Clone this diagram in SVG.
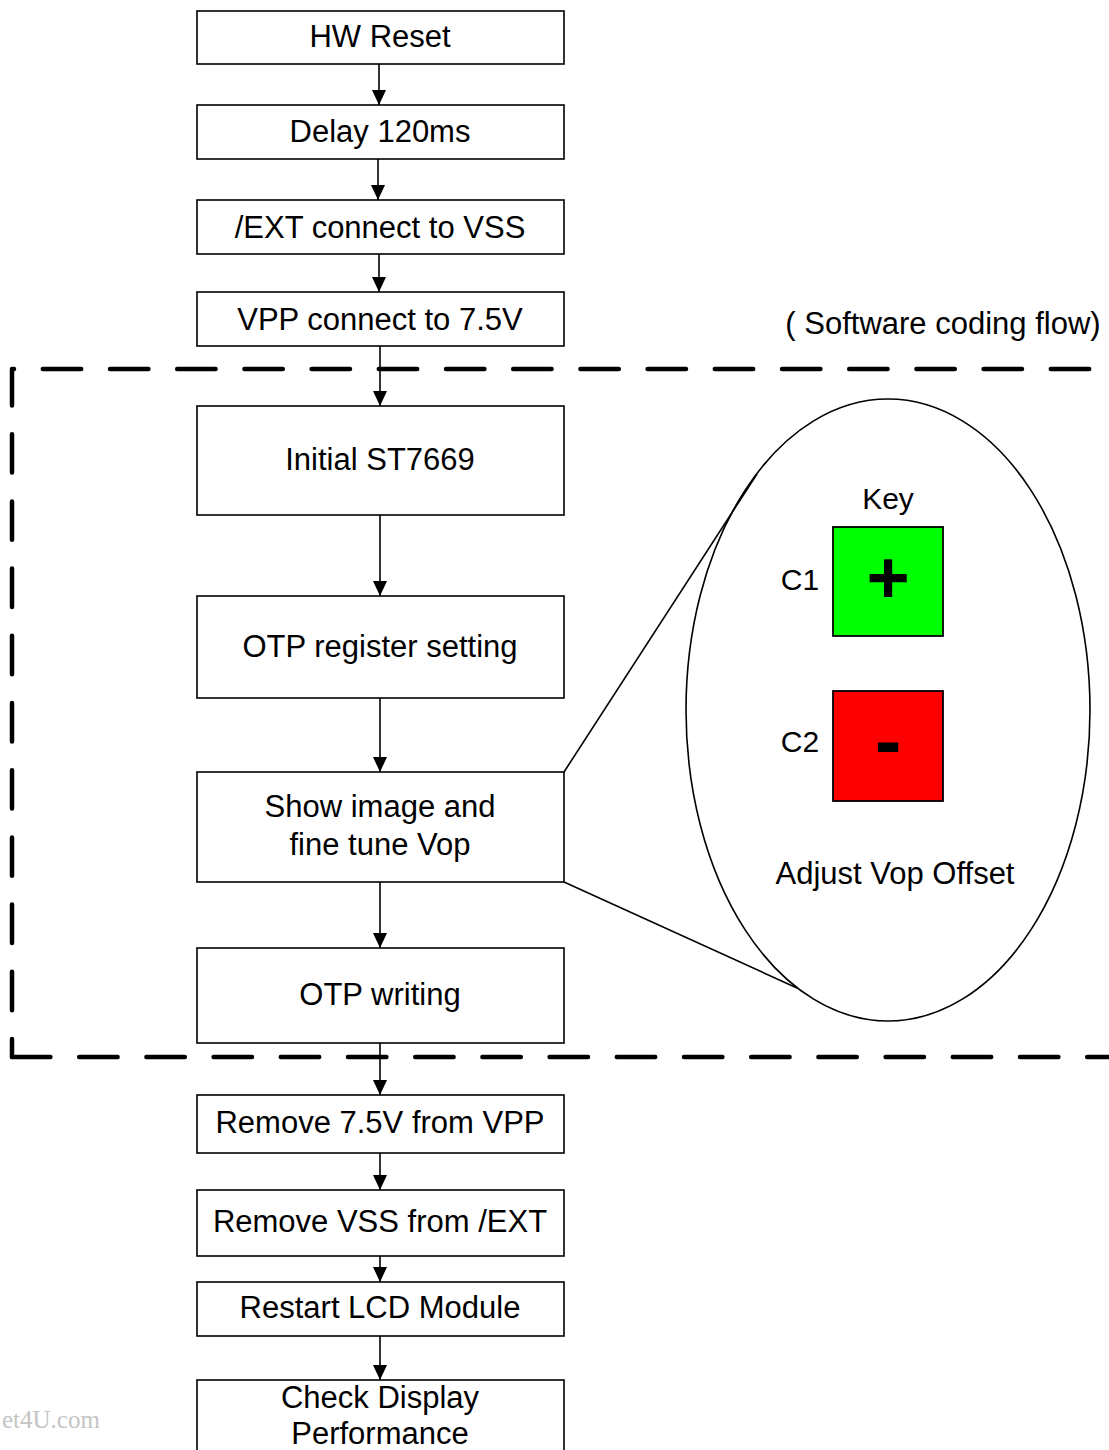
<svg xmlns="http://www.w3.org/2000/svg" width="1109" height="1450" viewBox="0 0 1109 1450">
<style>
.box{fill:#fff;stroke:#000;stroke-width:1.6}
.t{font-family:"Liberation Sans",Arial,sans-serif;font-size:31px;fill:#000;text-anchor:middle}
.k{font-family:"Liberation Sans",Arial,sans-serif;font-size:30px;fill:#000;text-anchor:middle}
.c{stroke:#000;stroke-width:1.6;fill:none}
.dash{fill:none;stroke:#000;stroke-width:4.5;stroke-linecap:round;stroke-linejoin:round;stroke-dasharray:38.4 28.8}
</style>
<defs>
<marker id="a" viewBox="0 0 15 14" refX="15" refY="7" markerWidth="15" markerHeight="14" orient="auto" markerUnits="userSpaceOnUse">
<path d="M0,0 L15,7 L0,14 Z" fill="#000"/>
</marker>
</defs>
<rect width="1109" height="1450" fill="#fff"/>
<g id="connectors">
<line class="c" x1="379" y1="64" x2="379" y2="105" marker-end="url(#a)"/>
<line class="c" x1="378" y1="159" x2="378" y2="200" marker-end="url(#a)"/>
<line class="c" x1="379" y1="254" x2="379" y2="292" marker-end="url(#a)"/>
<line class="c" x1="380" y1="346" x2="380" y2="406" marker-end="url(#a)"/>
<line class="c" x1="380" y1="515" x2="380" y2="596" marker-end="url(#a)"/>
<line class="c" x1="380" y1="698" x2="380" y2="772" marker-end="url(#a)"/>
<line class="c" x1="380" y1="882" x2="380" y2="948" marker-end="url(#a)"/>
<line class="c" x1="380" y1="1043" x2="380" y2="1095" marker-end="url(#a)"/>
<line class="c" x1="380" y1="1153" x2="380" y2="1190" marker-end="url(#a)"/>
<line class="c" x1="380" y1="1256" x2="380" y2="1282" marker-end="url(#a)"/>
<line class="c" x1="380" y1="1336" x2="380" y2="1380" marker-end="url(#a)"/>
<line class="c" x1="564" y1="772" x2="757" y2="474"/>
<line class="c" x1="564" y1="882" x2="797" y2="988"/>
</g>
<g id="dashed-region">
<path class="dash" d="M12,1057 V369 H1109" stroke-dashoffset="20.4"/>
<path class="dash" d="M12,1057 H1109"/>
</g>
<g id="n-hwreset"><rect class="box" x="197" y="11" width="367" height="53"/><text class="t" x="380" y="47">HW Reset</text></g>
<g id="n-delay"><rect class="box" x="197" y="105" width="367" height="54"/><text class="t" x="380" y="142">Delay 120ms</text></g>
<g id="n-ext"><rect class="box" x="197" y="200" width="367" height="54"/><text class="t" x="380" y="238">/EXT connect to VSS</text></g>
<g id="n-vpp"><rect class="box" x="197" y="292" width="367" height="54"/><text class="t" x="380" y="330">VPP connect to 7.5V</text></g>
<g id="n-init"><rect class="box" x="197" y="406" width="367" height="109"/><text class="t" x="380" y="470">Initial ST7669</text></g>
<g id="n-otpreg"><rect class="box" x="197" y="596" width="367" height="102"/><text class="t" x="380" y="657">OTP register setting</text></g>
<g id="n-show"><rect class="box" x="197" y="772" width="367" height="110"/><text class="t" x="380" y="817">Show image and</text><text class="t" x="380" y="855">fine tune Vop</text></g>
<g id="n-otpw"><rect class="box" x="197" y="948" width="367" height="95"/><text class="t" x="380" y="1005">OTP writing</text></g>
<g id="n-rm75"><rect class="box" x="197" y="1095" width="367" height="58"/><text class="t" x="380" y="1133">Remove 7.5V from VPP</text></g>
<g id="n-rmvss"><rect class="box" x="197" y="1190" width="367" height="66"/><text class="t" x="380" y="1232">Remove VSS from /EXT</text></g>
<g id="n-restart"><rect class="box" x="197" y="1282" width="367" height="54"/><text class="t" x="380" y="1318">Restart LCD Module</text></g>
<g id="n-check"><rect class="box" x="197" y="1380" width="367" height="80"/><text class="t" x="380" y="1408">Check Display</text><text class="t" x="380" y="1444">Performance</text></g>
<g id="label-sw"><text class="t" x="943" y="334">( Software coding flow)</text></g>
<g id="n-zoom">
<ellipse cx="888" cy="710" rx="202" ry="311" fill="none" stroke="#000" stroke-width="1.6"/>
<text class="k" x="888" y="509">Key</text>
<text class="k" x="800" y="590">C1</text>
<text class="k" x="800" y="752">C2</text>
<rect x="833" y="527" width="110" height="109" fill="#00ff00" stroke="#000" stroke-width="1.8"/>
<text x="888" y="603" font-family="Liberation Sans,Arial,sans-serif" font-size="74" font-weight="bold" text-anchor="middle">+</text>
<rect x="833" y="691" width="110" height="110" fill="#ff0000" stroke="#000" stroke-width="1.8"/>
<text x="888" y="768" font-family="Liberation Sans,Arial,sans-serif" font-size="80" font-weight="bold" text-anchor="middle">-</text>
<text class="t" x="895" y="884">Adjust Vop Offset</text>
</g>
<g id="watermark"><text x="2" y="1428" font-family="Liberation Serif,Times New Roman,serif" font-size="25" fill="#c4c4c4">et4U.com</text></g>
</svg>
